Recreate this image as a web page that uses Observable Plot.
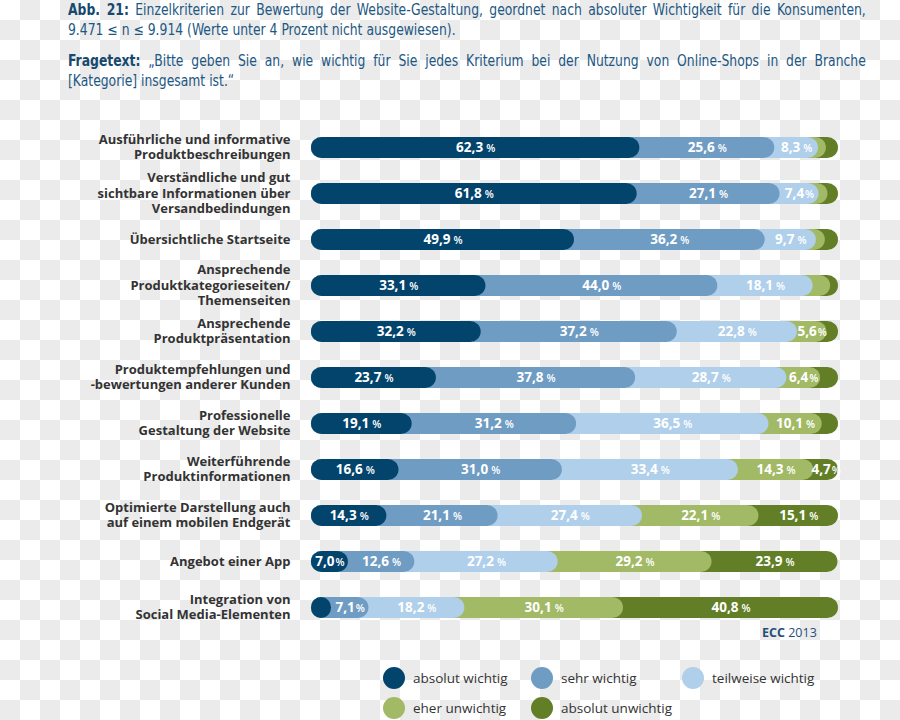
<!DOCTYPE html>
<html>
<head>
<meta charset="utf-8">
<script src="https://cdn.jsdelivr.net/npm/d3@7"></script>
<script src="https://cdn.jsdelivr.net/npm/@observablehq/plot@0.6"></script>
<style>
  html, body { margin: 0; padding: 0; }
  body {
    width: 900px; height: 720px; overflow: hidden;
    background-color: #ffffff;
    background-image: conic-gradient(#ebebeb 25%, transparent 0 50%, #ebebeb 0 75%, transparent 0);
    background-size: 40px 40px;
    background-position: 0 0;
  }
  #wrap { position: relative; width: 900px; height: 720px; }
  .hl { position: absolute; left: 68px; width: 870px; font-family: "DejaVu Sans Condensed", "DejaVu Sans", sans-serif; font-size: 15px; line-height: 20px; color: #1d5783; white-space: nowrap; transform: scaleX(0.917); transform-origin: 0 0; }
  .hl b { color: #17496f; }
  .just { text-align: justify; text-align-last: justify; }
  #chart { position: absolute; left: 0; top: 110px; }
  #ecc { position: absolute; left: 762px; top: 624px; font-family: "Open Sans", sans-serif; font-size: 12.5px; color: #1f5079; }
  .lg { position: absolute; display: flex; align-items: center; font-family: "Open Sans", sans-serif; font-size: 13.5px; color: #333; }
  .lg span.sw { display: inline-block; width: 22px; height: 22px; border-radius: 50%; margin-right: 8px; }
</style>
</head>
<body>
<div id="wrap">
  <div class="hl just" style="top:0px"><b>Abb. 21:</b> Einzelkriterien zur Bewertung der Website-Gestaltung, geordnet nach absoluter Wichtigkeit für die Konsumenten,</div>
  <div class="hl" style="top:20px">9.471 ≤ n ≤ 9.914 (Werte unter 4 Prozent nicht ausgewiesen).</div>
  <div class="hl just" style="top:51px"><b>Fragetext:</b> „Bitte geben Sie an, wie wichtig für Sie jedes Kriterium bei der Nutzung von Online-Shops in der Branche</div>
  <div class="hl" style="top:71px">[Kategorie] insgesamt ist.“</div>
  <div id="chart"></div>
  <div id="ecc"><b>ECC</b> 2013</div>
  <div id="legend"></div>
</div>
<script>
const categories = [
  "Ausführliche und informative\nProduktbeschreibungen",
  "Verständliche und gut\nsichtbare Informationen über\nVersandbedindungen",
  "Übersichtliche Startseite",
  "Ansprechende\nProduktkategorieseiten/\nThemenseiten",
  "Ansprechende\nProduktpräsentation",
  "Produktempfehlungen und\n-bewertungen anderer Kunden",
  "Professionelle\nGestaltung der Website",
  "Weiterführende\nProduktinformationen",
  "Optimierte Darstellung auch\nauf einem mobilen Endgerät",
  "Angebot einer App",
  "Integration von\nSocial Media-Elementen"
];
const seriesNames = ["absolut wichtig", "sehr wichtig", "teilweise wichtig", "eher unwichtig", "absolut unwichtig"];
const seriesColors = ["#02446c", "#6f9cc3", "#b0cfeb", "#a2b966", "#627f28"];

const absolutWichtig   = [62.3, 61.8, 49.9, 33.1, 32.2, 23.7, 19.1, 16.6, 14.3, 7.0, 3.8];
const sehrWichtig      = [25.6, 27.1, 36.2, 44.0, 37.2, 37.8, 31.2, 31.0, 21.1, 12.6, 7.1];
const teilweiseWichtig = [8.3, 7.4, 9.7, 18.1, 22.8, 28.7, 36.5, 33.4, 27.4, 27.2, 18.2];
const eherUnwichtig    = [1.5, 1.7, 1.7, 3.3, 5.6, 6.4, 10.1, 14.3, 22.1, 29.2, 30.1];
const absolutUnwichtig = [2.3, 2.0, 2.5, 1.5, 2.2, 3.4, 3.1, 4.7, 15.1, 23.9, 40.8];

const seriesValues = [absolutWichtig, sehrWichtig, teilweiseWichtig, eherUnwichtig, absolutUnwichtig];

const rows = [];
categories.forEach((c, i) => {
  let start = 0;
  seriesValues.forEach((vals, s) => {
    const v = vals[i];
    rows.push({category: c, series: seriesNames[s], s, value: v, start, end: start + v});
    start += v;
  });
});
// draw last series first so each segment's rounded end overlaps the following one
const barRows = rows.slice().sort((a, b) => b.s - a.s);
const labelRows = rows.filter(d => d.value >= 4);

const chart = Plot.plot({
  width: 900,
  height: 532,
  marginLeft: 311,
  marginRight: 62,
  marginTop: 4,
  marginBottom: 0.5,
  style: {background: "transparent", fontFamily: "'Open Sans', sans-serif", overflow: "visible"},
  x: {domain: [0, 100], axis: null},
  y: {domain: categories, axis: null, paddingInner: 0.533, paddingOuter: 0.5, align: 0.5},
  color: {domain: seriesNames, range: seriesColors},
  marks: [
    Plot.barX(barRows, {x1: d => 0, x2: "end", y: "category", fill: "series", rx: 10.75}),
    Plot.text(labelRows, {
      x: d => (d.start + d.end) / 2, y: "category",
      text: d => d.value.toFixed(1).replace(".", ","),
      fill: "white", fontWeight: 700, fontSize: 13.5
    }),
    Plot.text(categories, {
      x: d => 0, y: d => d, text: d => d,
      textAnchor: "end", dx: -21, dy: -1.5,
      fontSize: 13, fontWeight: 700, lineHeight: 1.2, fill: "#333"
    })
  ]
});
document.getElementById("chart").appendChild(chart);

// percent sign in lighter, smaller type after each value label
d3.select(chart).selectAll("text").each(function() {
  const t = this.textContent;
  if (!/^\d+,\d$/.test(t)) return;
  const v = +t.replace(",", ".");
  this.textContent = "";
  const s = d3.select(this);
  s.append("tspan").text(t);
  s.append("tspan").attr("font-size", 10.5).attr("font-weight", 600).attr("dx", v < 8 ? 1 : 3).text("%");
});

// legend
const legend = document.getElementById("legend");
const colX = [383, 531, 682];
const rowY = [667, 697];
seriesNames.forEach((name, i) => {
  const item = document.createElement("div");
  item.className = "lg";
  item.style.left = colX[i % 3] + "px";
  item.style.top = rowY[Math.floor(i / 3)] + "px";
  const sw = document.createElement("span");
  sw.className = "sw";
  sw.style.background = seriesColors[i];
  item.appendChild(sw);
  item.appendChild(document.createTextNode(name));
  legend.appendChild(item);
});
</script>
</body>
</html>
